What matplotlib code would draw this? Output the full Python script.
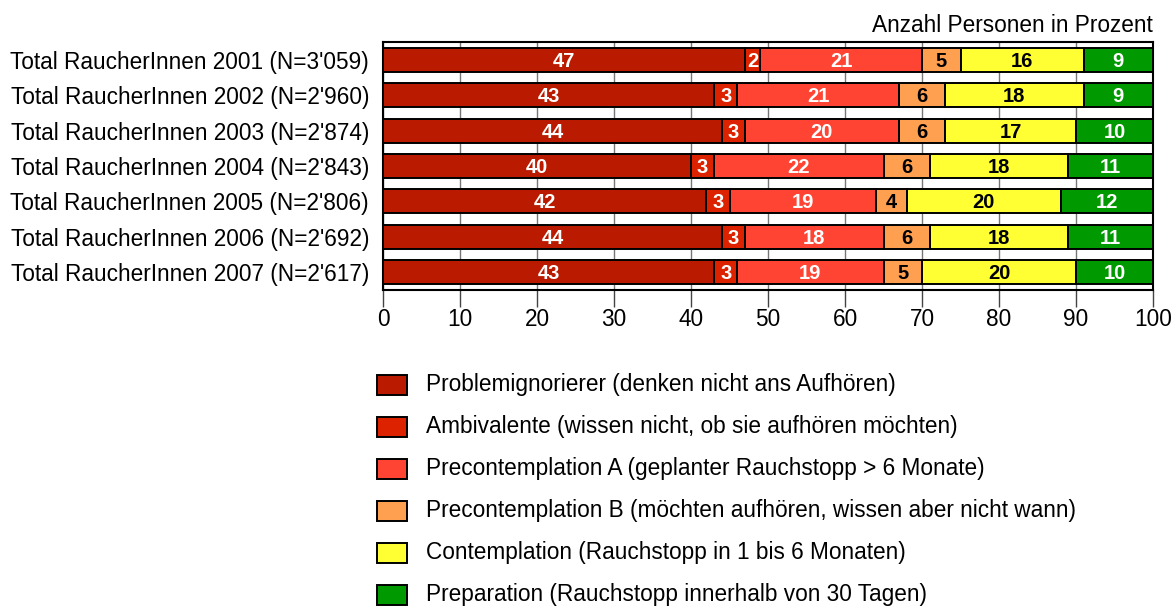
import matplotlib
matplotlib.use("Agg")
import matplotlib.pyplot as plt
from matplotlib.patches import Rectangle
import numpy as np

plt.rcParams['font.family'] = ['Liberation Sans', 'DejaVu Sans']

years = ["Total RaucherInnen 2001 (N=3'059)",
         "Total RaucherInnen 2002 (N=2'960)",
         "Total RaucherInnen 2003 (N=2'874)",
         "Total RaucherInnen 2004 (N=2'843)",
         "Total RaucherInnen 2005 (N=2'806)",
         "Total RaucherInnen 2006 (N=2'692)",
         "Total RaucherInnen 2007 (N=2'617)"]

stages = ["Problemignorierer (denken nicht ans Aufhören)",
          "Ambivalente (wissen nicht, ob sie aufhören möchten)",
          "Precontemplation A (geplanter Rauchstopp > 6 Monate)",
          "Precontemplation B (möchten aufhören, wissen aber nicht wann)",
          "Contemplation (Rauchstopp in 1 bis 6 Monaten)",
          "Preparation (Rauchstopp innerhalb von 30 Tagen)"]

problemignorierer = [47, 43, 44, 40, 42, 44, 43]
ambivalente       = [2, 3, 3, 3, 3, 3, 3]
precontemplation_a = [21, 21, 20, 22, 19, 18, 19]
precontemplation_b = [5, 6, 6, 6, 4, 6, 5]
contemplation     = [16, 18, 17, 18, 20, 18, 20]
preparation       = [9, 9, 10, 11, 12, 11, 10]

series = [problemignorierer, ambivalente, precontemplation_a,
          precontemplation_b, contemplation, preparation]
colors = ["#B91A00", "#DD2200", "#FF4433", "#FFA050", "#FFFF33", "#009A00"]
text_colors = ["white", "white", "white", "black", "black", "white"]

x_ticks = [0, 10, 20, 30, 40, 50, 60, 70, 80, 90, 100]

FS = 16.3

fig = plt.figure(figsize=(11.74, 6.06), dpi=100)
ax = fig.add_axes([383 / 1174, 1 - 290 / 606, 770 / 1174, 248 / 606])

y = np.arange(len(years))
left = np.zeros(len(years))
for vals, col, tcol in zip(series, colors, text_colors):
    vals = np.array(vals, dtype=float)
    bars = ax.barh(y, vals, left=left, height=0.68, color=col,
                   edgecolor="black", linewidth=1.4, zorder=3)
    for rect, v in zip(bars, vals):
        ax.text(rect.get_x() + rect.get_width() / 2,
                rect.get_y() + rect.get_height() / 2 + 0.04,
                f"{int(v)}", ha="center", va="center", color=tcol,
                fontsize=14.5, fontweight="bold", zorder=4)
    left += vals

ax.set_xlim(0, 100)
ax.set_ylim(len(years) - 0.49, -0.51)
ax.set_xticks(x_ticks)
ax.set_xticklabels([str(t) for t in x_ticks], fontsize=FS)
ax.set_yticks(y)
ax.set_yticklabels(years, fontsize=FS)
ax.tick_params(axis="y", length=0, pad=10)
ax.tick_params(axis="x", length=12, width=1, color="#444444", pad=1)
ax.xaxis.grid(True, color="#777777", linewidth=1, zorder=0)
for s in ax.spines.values():
    s.set_linewidth(1.5)
    s.set_color("black")

fig.text(1153 / 1174, 1 - 26 / 606, "Anzahl Personen in Prozent",
         ha="right", va="center", fontsize=FS)

# legend drawn as boxes with labels below the chart
for i, (label, col) in enumerate(zip(stages, colors)):
    yc = 385 + 42 * i
    fig.patches.append(Rectangle((377 / 1174, 1 - (yc + 10) / 606),
                                 30 / 1174, 20 / 606, transform=fig.transFigure,
                                 facecolor=col, edgecolor="black", linewidth=1.4))
    fig.text(426 / 1174, 1 - yc / 606, label, ha="left", va="center", fontsize=FS)

fig.savefig("out.png", dpi=100)
